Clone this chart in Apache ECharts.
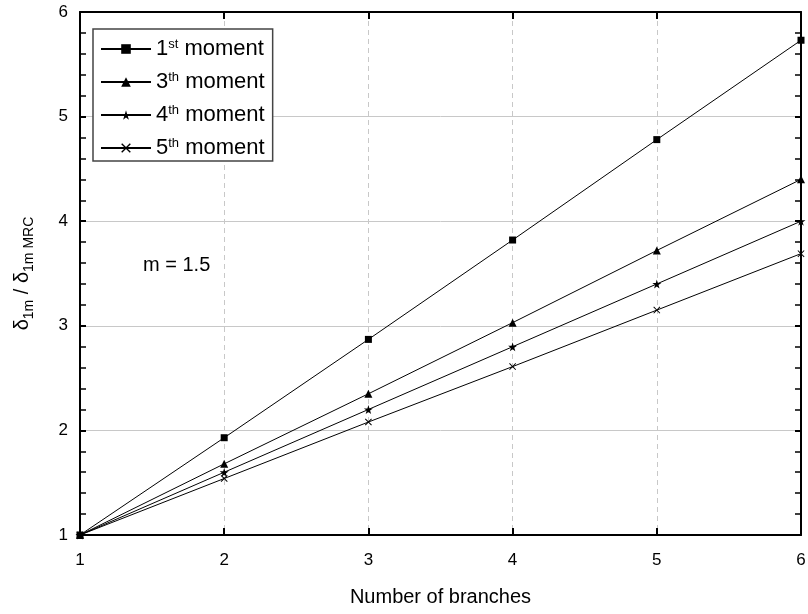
<!DOCTYPE html>
<html><head><meta charset="utf-8">
<script src="https://cdn.jsdelivr.net/npm/echarts@6/dist/echarts.min.js"></script>
<style>html,body{margin:0;padding:0;background:#fff}#c{width:808px;height:614px}</style>
</head><body><div id="c"></div>
<script>
const branches = [1, 2, 3, 4, 5, 6];
const moment1 = [1, 1.93, 2.87, 3.82, 4.78, 5.73];
const moment3 = [1, 1.68, 2.35, 3.03, 3.72, 4.40];
const moment4 = [1, 1.60, 2.20, 2.80, 3.40, 4.00];
const moment5 = [1, 1.54, 2.08, 2.61, 3.15, 3.69];
const seriesNames = ['1st moment', '3th moment', '4th moment', '5th moment'];
const xTicks = [1, 2, 3, 4, 5, 6];
const yTicks = [1, 2, 3, 4, 5, 6];

const STAR = 'path://M50,0L61,35L98,35L68,57L79,91L50,70L21,91L32,57L2,35L39,35Z';
const CROSS = 'path://M0,1L1,0L5,4L9,0L10,1L6,5L10,9L9,10L5,6L1,10L0,9L4,5Z';

function pairs(vals){ return branches.map((b,i)=>[b, vals[i]]); }
function mk(name, vals, symbol, size){
  return {name, type:'line', data:pairs(vals), symbol, symbolSize:size,
    lineStyle:{color:'#000', width:1}, itemStyle:{color:'#000'}, showSymbol:true, clip:false, z:3};
}

const font = 'Arial, "Liberation Sans", sans-serif';
const chart = echarts.init(document.getElementById('c'));
chart.setOption({
  animation:false,
  textStyle:{fontFamily:font},
  grid:{left:80, right:7, top:12, bottom:79, containLabel:false, outerBoundsMode:'none'},
  legend:{
    orient:'vertical', left:93, top:29, itemWidth:50, itemHeight:12, itemGap:11,
    padding:[9,8,2,7],
    borderColor:'#444', borderWidth:1.5, backgroundColor:'#fff',
    data:seriesNames,
    formatter:function(n){
      const num = n.charAt(0); const sup = n.substr(1,2);
      return '{n|'+num+'}{s|'+sup+'}{n| moment}';
    },
    textStyle:{color:'#000', fontFamily:font,
      rich:{n:{fontSize:22, fontFamily:font, color:'#000', verticalAlign:'bottom', lineHeight:22},
            s:{fontSize:13, fontFamily:font, color:'#000', verticalAlign:'top', lineHeight:22, padding:[0,0,8,0]}}}
  },
  xAxis:[{
    type:'value', min:1, max:6, interval:1, position:'bottom',
    name:'Number of branches', nameLocation:'middle', nameGap:52,
    nameTextStyle:{fontSize:20, color:'#000', fontFamily:font},
    axisLine:{lineStyle:{color:'#000', width:2}},
    axisTick:{inside:true, length:7, lineStyle:{color:'#000', width:2}},
    axisLabel:{fontSize:17, color:'#000', margin:17, fontFamily:font},
    splitLine:{show:true, lineStyle:{color:'#c8c8c8', type:[5,4], width:1}}
  },{
    type:'value', min:1, max:6, interval:1, position:'top',
    axisLine:{lineStyle:{color:'#000', width:2}},
    axisTick:{inside:true, length:7, lineStyle:{color:'#000', width:2}},
    axisLabel:{show:false}, splitLine:{show:false}
  }],
  yAxis:[{
    type:'value', min:1, max:6, interval:1, position:'left',
    name:'{d|δ}{b|1m}{d| / δ}{b|1m MRC}', nameLocation:'middle', nameGap:44,
    nameTextStyle:{color:'#000', fontFamily:font,
      rich:{d:{fontSize:20, fontFamily:font, color:'#000', verticalAlign:'top', lineHeight:24},
            b:{fontSize:14, fontFamily:font, color:'#000', verticalAlign:'bottom', lineHeight:24, padding:[9,0,0,0]}}},
    axisLine:{lineStyle:{color:'#000', width:2}},
    axisTick:{inside:true, length:6, lineStyle:{color:'#000', width:2}},
    minorTick:{show:true, splitNumber:5, length:6, lineStyle:{color:'#000', width:1.5}},
    axisLabel:{fontSize:17, color:'#000', margin:12, fontFamily:font,
      formatter:v=>yTicks.includes(v)?String(v):''},
    splitLine:{show:true, lineStyle:{color:'#c8c8c8', width:1}}
  },{
    type:'value', min:1, max:6, interval:1, position:'right',
    axisLine:{show:true, lineStyle:{color:'#000', width:2}},
    axisTick:{show:true, inside:true, length:6, lineStyle:{color:'#000', width:2}},
    minorTick:{show:true, splitNumber:5, length:6, lineStyle:{color:'#000', width:1.5}},
    axisLabel:{show:false}, splitLine:{show:false}
  }],
  graphic:[{type:'text', left:143, top:255, style:{text:'m = 1.5', fontSize:20, fill:'#000', fontFamily:font}}],
  series:[
    mk(seriesNames[0], moment1, 'rect', 7),
    mk(seriesNames[1], moment3, 'triangle', 8),
    mk(seriesNames[2], moment4, STAR, 9),
    mk(seriesNames[3], moment5, CROSS, 7)
  ]
});
</script></body></html>
